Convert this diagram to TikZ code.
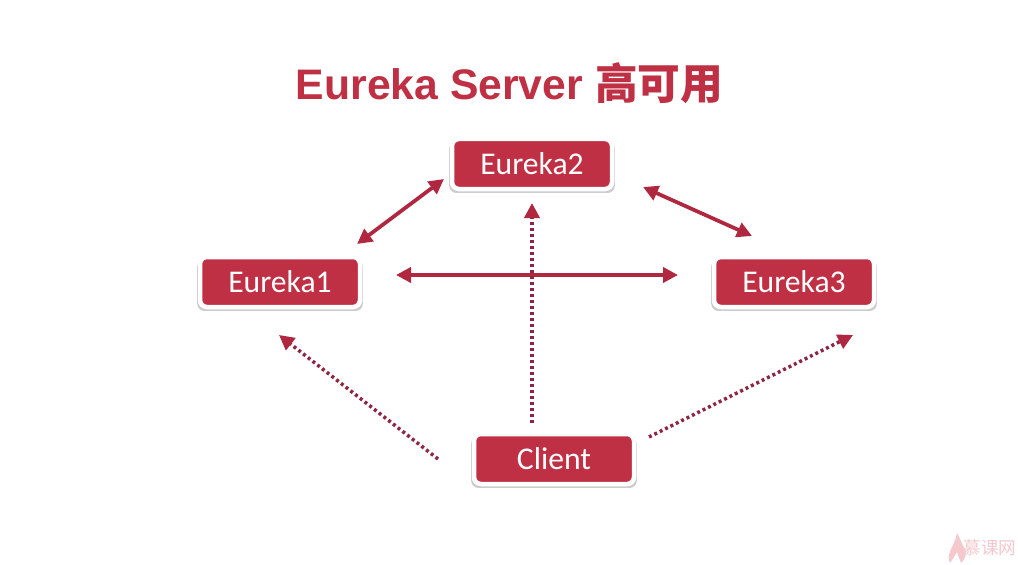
\documentclass[tikz,border=0pt]{standalone}
\usepackage{fontspec}
\setmainfont{Liberation Sans}
\newfontfamily\cjk{Noto Sans CJK SC}
\newfontfamily\boxfont{Carlito}
\usetikzlibrary{arrows.meta,shadows}
\definecolor{boxred}{RGB}{192,48,68}
\definecolor{arrowred}{RGB}{176,40,64}
\definecolor{dotred}{RGB}{140,38,66}
\definecolor{logopink}{RGB}{244,200,204}
\tikzset{
	serverbox/.style={draw=white,fill=boxred,line width=0.09cm,rounded corners=0.14cm,minimum width=3.2cm,minimum height=1.0cm,text=white,font=\boxfont\fontsize{18}{20}\selectfont,drop shadow={shadow xshift=0cm,shadow yshift=-0.06cm,shadow scale=1.035,fill=black,opacity=0.2}},
	syncline/.style={arrowred,line width=0.075cm,{Triangle[length=0.3cm,width=0.3cm]}-{Triangle[length=0.3cm,width=0.3cm]}},
	fetchline/.style={dotred,line width=0.07cm,dash pattern=on 0.06cm off 0.06cm,-{Triangle[length=0.3cm,width=0.3cm,color=arrowred]}}
}
\begin{document}
\begin{tikzpicture}
	\useasboundingbox (0,0) rectangle (20.36,11.28);
	\fill[white] (0,0) rectangle (20.36,11.28);
	\node (title) at (10.19,9.62) {\fontsize{24.3}{28}\selectfont\color{boxred}\bfseries Eureka Server {\cjk 高可用}};
	\node[serverbox] (eureka1) at (5.6,5.64) {Eureka1};
	\node[serverbox] (eureka2) at (10.64,8.0) {Eureka2};
	\node[serverbox] (eureka3) at (15.88,5.64) {Eureka3};
	\node[serverbox] (client) at (11.08,2.1) {Client};
	\draw[syncline] ([shift={(1.54,0.76)}]eureka1.center) -- ([shift={(-1.76,-0.3)}]eureka2.center);
	\draw[syncline] ([shift={(2.22,-0.46)}]eureka2.center) -- ([shift={(-0.84,0.92)}]eureka3.center);
	\draw[syncline] ([shift={(2.32,0.14)}]eureka1.center) -- ([shift={(-2.32,0.14)}]eureka3.center);
	\draw[fetchline] ([shift={(-0.44,0.72)}]client.center) -- ([shift={(0,-0.78)}]eureka2.center);
	\draw[fetchline] ([shift={(-2.32,0)}]client.center) -- ([shift={(-0.02,-1.06)}]eureka1.center);
	\draw[fetchline] ([shift={(1.9,0.44)}]client.center) -- ([shift={(1.18,-1.06)}]eureka3.center);
	\node[text=logopink,inner sep=0pt] (logo) at (19.8,0.32) {\fontsize{10}{11}\selectfont\cjk 慕课网};
	\fill[logopink] (19.0,0.02) .. controls (18.9,0.2) and (19.1,0.36) .. (19.14,0.62) .. controls (19.2,0.5) and (19.24,0.42) .. (19.26,0.36) .. controls (19.36,0.26) and (19.32,0.1) .. (19.22,0.02) -- (19.14,0.24) -- cycle;
\end{tikzpicture}
\end{document}
